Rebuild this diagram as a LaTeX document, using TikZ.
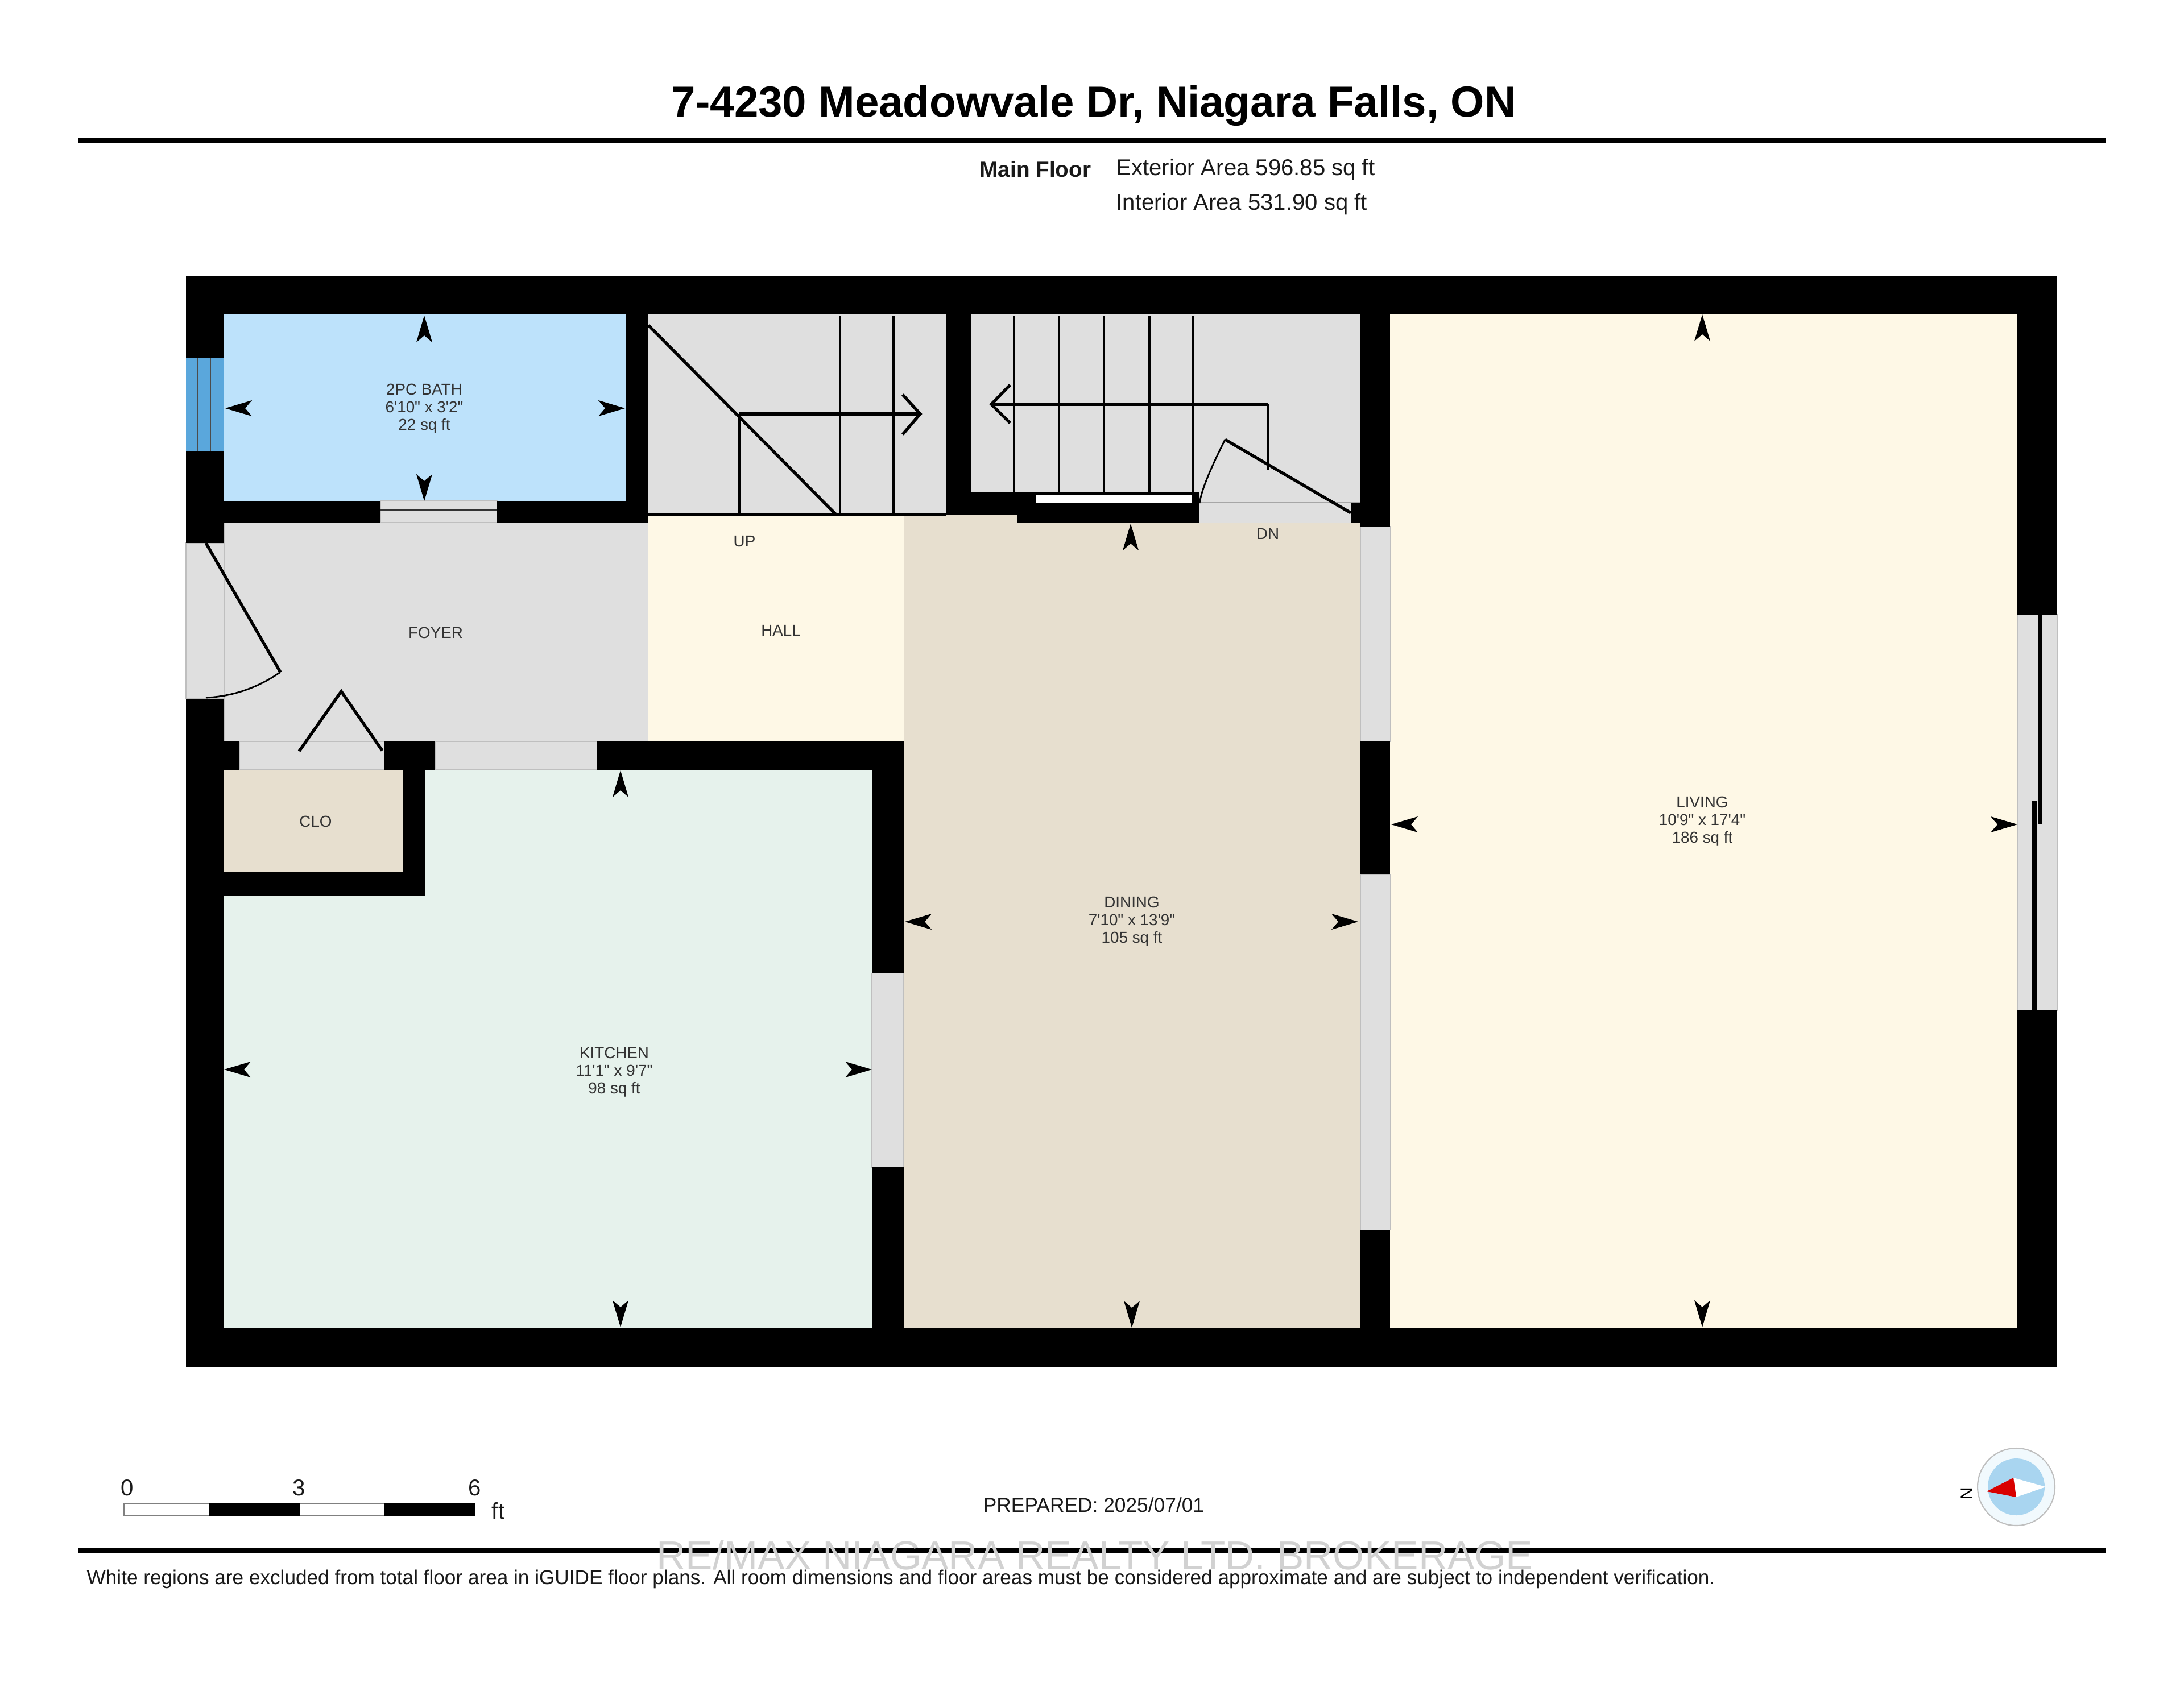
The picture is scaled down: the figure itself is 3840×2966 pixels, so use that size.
\documentclass[tikz,border=0pt]{standalone}
\usepackage{fontspec}
\setmainfont{Liberation Sans}
\newfontfamily\labelfont{Liberation Sans}
\usetikzlibrary{positioning}
\definecolor{bathblue}{HTML}{BDE2FB}
\definecolor{windowblue}{HTML}{5AA7DC}
\definecolor{creamroom}{HTML}{FEF8E6}
\definecolor{tanroom}{HTML}{E7DFCF}
\definecolor{mintroom}{HTML}{E6F2EC}
\definecolor{grayroom}{HTML}{DFDFDF}
\definecolor{compassblue}{HTML}{A9D5F0}
\definecolor{compassring}{HTML}{F1F9FD}

\begin{document}
\begin{tikzpicture}[
  x=0.01cm, y=-0.01cm,
  opening/.style={fill=grayroom, draw=gray!50, line width=0.3pt},
  heavy/.style={line width=1.5pt},
  thinline/.style={line width=1pt},
  roomlabel/.style={inner sep=0pt, align=center, text=black!80, font=\labelfont\fontsize{7.9}{8.8}\selectfont},
  sheettext/.style={inner sep=0pt, text=black!90, font=\fontsize{11.4}{13}\selectfont},
  dimtip/.pic={\fill (0,0) -- (-47,-14) -- (-35,0) -- (-47,14) -- cycle;}
]
  \useasboundingbox (0,0) rectangle (3840,2966);
  \node[inner sep=0pt, font=\bfseries\fontsize{21.7}{26}\selectfont] (title) at (1923,186) {7-4230 Meadowvale Dr, Niagara Falls, ON};
  \draw[line width=2pt] (138,247) -- (3703,247);
  \node[sheettext, anchor=west, font=\bfseries\fontsize{11}{13}\selectfont] (mainfloor) at (1722,298) {Main Floor};
  \node[sheettext, anchor=west] (exterior) at (1962,298) {Exterior Area 596.85 sq ft};
  \node[sheettext, anchor=west] (interior) at (1962,359) {Interior Area 531.90 sq ft};

  \fill[bathblue] (394,552) rectangle (1100,881);
  \fill[grayroom] (394,919) rectangle (1139,1304);
  \fill[grayroom] (1139,552) rectangle (1664,905);
  \fill[grayroom] (1707,552) rectangle (2392,919);
  \fill[creamroom] (1139,905) rectangle (1589,1304);
  \fill[tanroom] (1589,905) rectangle (1788,1304);
  \fill[tanroom] (1589,919) rectangle (2392,2335);
  \fill[mintroom] (394,1354) rectangle (1533,2335);
  \fill[tanroom] (394,1354) rectangle (709,1533);
  \fill[creamroom] (2444,552) rectangle (3547,2335);

  \foreach \xa/\ya/\xb/\yb in {327/955/394/1229, 669/881/874/919, 421/1304/676/1354, 765/1304/1050/1354,
    1533/1711/1589/2053, 2392/926/2444/1304, 2392/1538/2444/2163, 3547/1081/3617/1777}
    \filldraw[opening] (\xa,\ya) rectangle (\xb,\yb);
  \draw[gray!50, line width=0.3pt] (394,919) -- (394,1304) -- (1139,1304);
  \draw[gray!70, line width=0.4pt] (2109,884) -- (2392,884);

  \fill[windowblue] (327,630) rectangle (394,794);
  \foreach \xa in {348,370}
    \draw[black!70, line width=0.7pt] (\xa,630) -- (\xa,794);

  \foreach \xa/\ya/\xb/\yb in {327/486/3617/552, 327/2335/3617/2404, 327/486/394/630, 327/794/394/955, 327/1229/394/2404,
    3547/486/3617/1081, 3547/1777/3617/2404, 1100/552/1139/919, 394/881/669/919, 874/881/1139/919,
    394/1304/421/1354, 676/1304/765/1354, 1050/1304/1589/1354, 709/1354/747/1575, 394/1533/747/1575,
    1533/1304/1589/1711, 1533/2053/1589/2335, 1664/552/1707/905, 1664/866/1821/905, 1788/884/2109/919,
    1821/866/2109/870, 2096/866/2109/884, 2375/885/2392/919, 2392/552/2444/926, 2392/1304/2444/1538, 2392/2163/2444/2335}
    \fill (\xa,\ya) rectangle (\xb,\yb);
  \fill[white] (1821,870) rectangle (2096,884);

  \fill (3583,1081) rectangle (3591,1450);
  \fill (3573,1408) rectangle (3581,1777);
  \draw[line width=1.2pt, black!80] (669,897) -- (874,897);

  \draw[heavy] (362,955) -- (493,1182);
  \draw[line width=0.8pt] (493,1182) .. controls (450,1212) and (405,1225) .. (362,1227);
  \draw[heavy] (526,1321) -- (600,1216) -- (672,1320);
  \draw[heavy] (2375,902) -- (2154,773);
  \draw[line width=0.8pt] (2154,773) .. controls (2128,825) and (2113,860) .. (2109,885);

  \draw[thinline] (1139,905) -- (1664,905);
  \draw[heavy] (1140,572) -- (1470,905);
  \foreach \xa/\ya in {1300/728, 1477/555, 1571/555}
    \draw[thinline] (\xa,\ya) -- (\xa,905);
  \draw[heavy] (1300,728) -- (1618,728);
  \draw[heavy] (1587,694) -- (1618,728) -- (1587,764);
  \foreach \xa in {1783,1862,1941,2021,2097}
    \draw[thinline] (\xa,555) -- (\xa,866);
  \draw[thinline] (2229,827) -- (2229,711);
  \draw[heavy] (2229,711) -- (1743,711);
  \draw[heavy] (1776,677) -- (1743,711) -- (1776,744);

  \foreach \xa/\ya/\ang in {746/555/90, 396/718/180, 1099/718/0, 746/881/-90,
    1091/1355/90, 1091/2334/-90, 394/1881/180, 1533/1881/0,
    1988/921/90, 1990/2335/-90, 1591/1621/180, 2388/1621/0,
    2993/553/90, 2993/2334/-90, 2446/1450/180, 3547/1450/0}
    \pic[rotate=\ang] at (\xa,\ya) {dimtip};

  \node[roomlabel] (bathlabel) at (746,719) {2PC BATH\\6'10" x 3'2"\\22 sq ft};
  \node[roomlabel] (foyerlabel) at (766,1113) {FOYER};
  \node[roomlabel] (uplabel) at (1309,952) {UP};
  \node[roomlabel] (halllabel) at (1373,1109) {HALL};
  \node[roomlabel] (dnlabel) at (2229,939) {DN};
  \node[roomlabel] (clolabel) at (555,1445) {CLO};
  \node[roomlabel] (kitchenlabel) at (1080,1886) {KITCHEN\\11'1" x 9'7"\\98 sq ft};
  \node[roomlabel] (dininglabel) at (1990,1621) {DINING\\7'10" x 13'9"\\105 sq ft};
  \node[roomlabel] (livinglabel) at (2993,1445) {LIVING\\10'9" x 17'4"\\186 sq ft};

  \draw[line width=0.7pt, black!50, fill=white] (218,2644) rectangle (835,2666);
  \fill (367,2644) rectangle (527,2666);
  \fill (676,2644) rectangle (835,2666);
  \node[sheettext] (scalezero) at (224,2617) {0};
  \node[sheettext] (scalethree) at (526,2617) {3};
  \node[sheettext] (scalesix) at (835,2617) {6};
  \node[sheettext] (scaleft) at (876,2657) {ft};
  \node[sheettext, font=\fontsize{10.05}{12}\selectfont] (prepared) at (1923,2647) {PREPARED: 2025/07/01};

  \filldraw[draw=gray!50, fill=compassring, line width=0.6pt] (3545,2615) circle (68);
  \fill[compassblue] (3545,2615) circle (50);
  \fill[white] (3540,2599) -- (3597,2615) -- (3545,2633) -- cycle;
  \fill[red!85!black] (3493,2623) -- (3540,2599) -- (3545,2633) -- cycle;
  \node[inner sep=0pt, rotate=90, font=\fontsize{8.5}{10}\selectfont] (north) at (3458,2627) {N};

  \draw[line width=2.2pt] (138,2727) -- (3703,2727);
  \node[inner sep=0pt, text=black!18, font=\fontsize{20.2}{24}\selectfont] (watermark) at (1925,2735) {RE/MAX NIAGARA REALTY LTD. BROKERAGE};
  \node[sheettext, anchor=west, font=\fontsize{10}{12}\selectfont] (disclaimer) at (152,2777) {White regions are excluded from total floor area in iGUIDE floor plans. All room dimensions and floor areas must be considered approximate and are subject to independent verification.};
\end{tikzpicture}
\end{document}
